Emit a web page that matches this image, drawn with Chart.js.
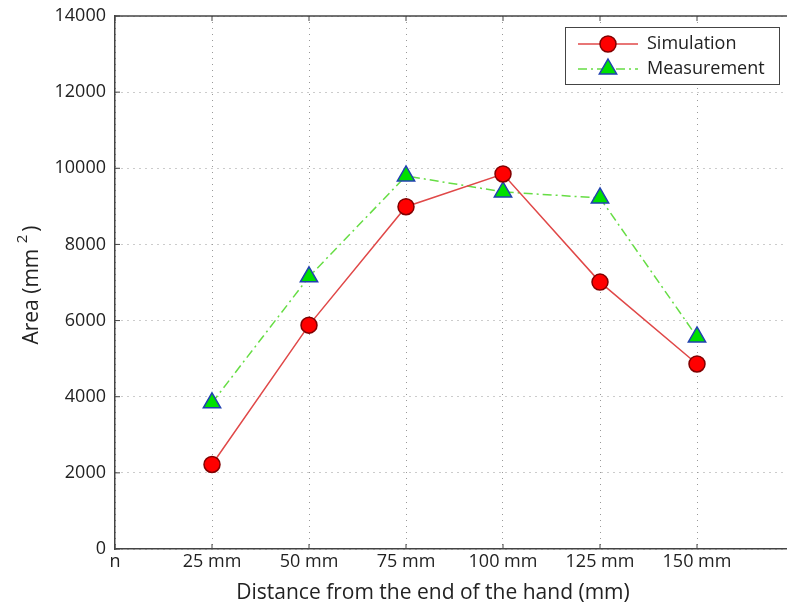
<!DOCTYPE html>
<html>
<head>
<meta charset="utf-8">
<script src="https://cdn.jsdelivr.net/npm/chart.js@4"></script>
<style>
  html, body { margin: 0; padding: 0; background: #fff; overflow: hidden; }
  #wrap { width: 787px; height: 610px; }
</style>
</head>
<body>
<div id="wrap"><canvas id="areaChart" width="787" height="610"></canvas></div>
<script>
const xLabels = ["n", "25 mm", "50 mm", "75 mm", "100 mm", "125 mm", "150 mm"];
const yTicks = [0, 2000, 4000, 6000, 8000, 10000, 12000, 14000];

const simulation = [2220, 5880, 8990, 9850, 7010, 4860];
const measurement = [3840, 7150, 9800, 9380, 9220, 5570];

const legendNames = ["Simulation", "Measurement"];
const xTitle = "Distance from the end of the hand (mm)";
const fontFamily = "'Open Sans', 'Noto Sans', sans-serif";

const toPoints = (values) => values.map((v, i) => ({ x: i + 1, y: v }));

// MATLAB-like axes: inner ticks, solid top border, titles, boxed legend.
const axesDecor = {
  id: "axesDecor",
  afterDraw(chart) {
    const { ctx, chartArea: a, scales } = chart;
    ctx.save();
    ctx.strokeStyle = "#444";
    ctx.lineWidth = 1.5;
    ctx.beginPath();
    ctx.moveTo(a.left, a.top);
    ctx.lineTo(a.right, a.top);
    ctx.stroke();

    ctx.lineWidth = 1;
    ctx.beginPath();
    scales.x.ticks.forEach((t) => {
      const px = scales.x.getPixelForValue(t.value);
      ctx.moveTo(px, a.bottom);
      ctx.lineTo(px, a.bottom - 5);
      ctx.moveTo(px, a.top);
      ctx.lineTo(px, a.top + 5);
    });
    scales.y.ticks.forEach((t) => {
      const py = scales.y.getPixelForValue(t.value);
      ctx.moveTo(a.left, py);
      ctx.lineTo(a.left + 5, py);
    });
    ctx.stroke();

    // x axis title
    ctx.fillStyle = "#222";
    ctx.font = `21px ${fontFamily}`;
    ctx.textAlign = "center";
    ctx.textBaseline = "middle";
    ctx.fillText(xTitle, 433, 593);

    // y axis title: Area (mm ²)
    ctx.translate(32, 285);
    ctx.rotate(-Math.PI / 2);
    const main = "Area (mm ";
    const wMain = ctx.measureText(main).width;
    const wClose = ctx.measureText(")").width;
    ctx.font = `15px ${fontFamily}`;
    const wSup = ctx.measureText("2").width;
    let x0 = -(wMain + wSup + 3 + wClose) / 2;
    ctx.font = `21px ${fontFamily}`;
    ctx.textAlign = "left";
    ctx.fillText(main, x0, 0);
    ctx.font = `15px ${fontFamily}`;
    ctx.fillText("2", x0 + wMain, -9);
    ctx.font = `21px ${fontFamily}`;
    ctx.fillText(")", x0 + wMain + wSup + 3, 0);
    ctx.restore();

    // legend box
    const box = { x: 565, y: 27, w: 214, h: 57 };
    ctx.save();
    ctx.fillStyle = "#fff";
    ctx.fillRect(box.x, box.y, box.w, box.h);
    ctx.strokeStyle = "#444";
    ctx.lineWidth = 1;
    ctx.strokeRect(box.x + 0.5, box.y + 0.5, box.w, box.h);
    const rows = [44, 69];
    chart.data.datasets.forEach((ds, i) => {
      const y = rows[i];
      ctx.strokeStyle = ds.borderColor;
      ctx.lineWidth = ds.borderWidth;
      ctx.setLineDash(ds.borderDash || []);
      ctx.beginPath();
      ctx.moveTo(578, y);
      ctx.lineTo(638, y);
      ctx.stroke();
      ctx.setLineDash([]);
      ctx.fillStyle = ds.pointBackgroundColor;
      ctx.strokeStyle = ds.pointBorderColor;
      ctx.lineWidth = ds.pointBorderWidth;
      ctx.beginPath();
      if (ds.pointStyle === "triangle") {
        const r = ds.pointRadius;
        ctx.moveTo(608, y - r);
        ctx.lineTo(608 + r * 0.866, y + r / 2);
        ctx.lineTo(608 - r * 0.866, y + r / 2);
        ctx.closePath();
      } else {
        ctx.arc(608, y, ds.pointRadius, 0, Math.PI * 2);
      }
      ctx.fill();
      ctx.stroke();
      ctx.fillStyle = "#222";
      ctx.font = `18px ${fontFamily}`;
      ctx.textBaseline = "middle";
      ctx.textAlign = "left";
      ctx.fillText(ds.label, 647, y);
    });
    ctx.restore();
  },
};

new Chart(document.getElementById("areaChart"), {
  type: "line",
  data: {
    datasets: [
      {
        label: legendNames[0],
        data: toPoints(simulation),
        borderColor: "#e04848",
        borderWidth: 1.5,
        pointStyle: "circle",
        pointRadius: 8,
        pointBackgroundColor: "#ff0000",
        pointBorderColor: "#800000",
        pointBorderWidth: 1.5,
        tension: 0,
      },
      {
        label: legendNames[1],
        data: toPoints(measurement),
        borderColor: "#66dd44",
        borderWidth: 1.5,
        borderDash: [9, 4, 2, 4],
        pointStyle: "triangle",
        pointRadius: 10,
        pointBackgroundColor: "#00e000",
        pointBorderColor: "#2040b0",
        pointBorderWidth: 1.5,
        tension: 0,
      },
    ],
  },
  options: {
    responsive: false,
    animation: false,
    devicePixelRatio: 1,
    layout: { autoPadding: false, padding: { top: 16, right: 0, left: 0, bottom: 0 } },
    plugins: {
      legend: { display: false },
      tooltip: { enabled: false },
    },
    scales: {
      x: {
        type: "linear",
        min: 0,
        max: 672 / 97,
        afterBuildTicks: (scale) => {
          scale.ticks = xLabels.map((_, i) => ({ value: i }));
        },
        afterFit: (scale) => {
          scale.height = 61;
          scale.paddingLeft = 0;
          scale.paddingRight = 0;
        },
        ticks: {
          color: "#222",
          font: { family: fontFamily, size: 18 },
          padding: 2,
          maxRotation: 0,
          autoSkip: false,
          callback: (value) => xLabels[value] ?? "",
        },
        grid: { color: "#999", lineWidth: 1, drawTicks: false },
        border: { display: true, color: "#444", width: 1.5, dash: [1, 5] },
      },
      y: {
        min: 0,
        max: 14000,
        afterBuildTicks: (scale) => {
          scale.ticks = yTicks.map((v) => ({ value: v }));
        },
        afterFit: (scale) => {
          scale.width = 115;
          scale.paddingTop = 0;
          scale.paddingBottom = 0;
        },
        ticks: {
          color: "#222",
          font: { family: fontFamily, size: 18 },
          padding: 9,
          callback: (value) => String(value),
        },
        grid: { color: "#999", lineWidth: 1, drawTicks: false },
        border: { display: true, color: "#444", width: 1.5, dash: [1, 5] },
      },
    },
  },
  plugins: [axesDecor],
});
</script>
</body>
</html>
